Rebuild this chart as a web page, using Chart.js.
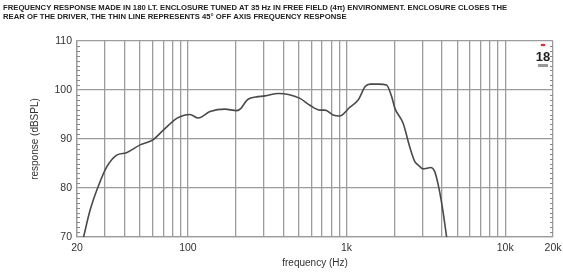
<!DOCTYPE html>
<html>
<head>
<meta charset="utf-8">
<script src="https://cdn.jsdelivr.net/npm/chart.js@4.4.0/dist/chart.umd.min.js"></script>
<style>
  body { margin: 0; background: #fff; }
  #chart { display: block; }
</style>
</head>
<body>
<canvas id="chart" width="563" height="272"></canvas>
<script>
// Frequency response (Hz / dB SPL)
const freqs = [22, 24.2, 27.2, 30.8, 35.6, 41, 50, 60, 70, 85, 96, 103, 116, 138, 171, 203, 215, 235, 252, 270, 306, 372, 430, 508, 588, 680, 732, 822, 904, 1050, 1186, 1310, 1406, 1600, 1786, 1926, 2014, 2272, 2500, 2692, 2828, 3036, 3190, 3382, 3600, 3840, 4070, 4272];
const spl = [70.0, 75.5, 80.3, 84.3, 86.7, 87.2, 88.8, 89.8, 91.8, 94.2, 94.9, 95.0, 94.3, 95.6, 96.1, 95.8, 96.2, 97.9, 98.4, 98.6, 98.8, 99.3, 99.1, 98.3, 96.9, 95.9, 95.9, 94.9, 94.7, 96.5, 98.0, 100.7, 101.2, 101.2, 101.0, 98.6, 96.3, 93.2, 88.4, 85.4, 84.7, 83.9, 84.0, 84.2, 83.3, 79.6, 74.8, 70.0];

// Grid frequencies and the ones that get a label
const gridFreqs = [20, 30, 40, 50, 60, 70, 80, 90, 100, 200, 300, 400, 500, 600, 700, 800, 900, 1000, 2000, 3000, 4000, 5000, 6000, 7000, 8000, 9000, 10000, 20000];
const freqLabels = { 20: "20", 100: "100", 1000: "1k", 10000: "10k", 20000: "20k" };

const titleLines = [
  "FREQUENCY RESPONSE MADE IN 180 LT. ENCLOSURE TUNED AT 35 Hz IN FREE FIELD (4\u03c0) ENVIRONMENT. ENCLOSURE CLOSES THE",
  "REAR OF THE DRIVER, THE THIN LINE REPRESENTS 45\u00b0 OFF AXIS FREQUENCY RESPONSE",
];

const gridColor = "#9c9c9c";
const textColor = "#333";

// small 1 dB ticks inside the left and right frame
const minorTicks = {
  id: "minorTicks",
  afterDraw(chart) {
    const ctx = chart.ctx;
    const y = chart.scales.y;
    const area = chart.chartArea;
    ctx.save();
    ctx.strokeStyle = "#888";
    ctx.lineWidth = 1;
    for (let v = 70; v <= 110; v++) {
      if (v % 10 === 0) continue;
      const py = Math.round(y.getPixelForValue(v)) + 0.5;
      ctx.beginPath();
      ctx.moveTo(area.left, py);
      ctx.lineTo(area.left + 3, py);
      ctx.moveTo(area.right, py);
      ctx.lineTo(area.right - 3, py);
      ctx.stroke();
    }
    ctx.restore();
  },
};

// the little "18" maker logo in the top right corner
const logo = {
  id: "logo",
  afterDraw(chart) {
    const ctx = chart.ctx;
    const area = chart.chartArea;
    const cx = area.right - 10;
    ctx.save();
    ctx.fillStyle = "#d33";
    ctx.beginPath();
    ctx.ellipse(cx, area.top + 4, 2.5, 1.2, 0, 0, Math.PI * 2);
    ctx.fill();
    ctx.fillStyle = "#222";
    ctx.font = "bold 13px 'Liberation Sans', Arial, sans-serif";
    ctx.textAlign = "center";
    ctx.textBaseline = "middle";
    ctx.fillText("18", cx, area.top + 16);
    ctx.fillStyle = "#999";
    ctx.fillRect(cx - 5, area.top + 23, 10, 3);
    ctx.restore();
  },
};

const ctx = document.getElementById("chart").getContext("2d");

new Chart(ctx, {
  type: "line",
  data: {
    datasets: [
      {
        data: freqs.map((f, i) => ({ x: f, y: spl[i] })),
        borderColor: "#4a4a4a",
        borderWidth: 1.6,
        pointRadius: 0,
        fill: false,
        cubicInterpolationMode: "monotone",
      },
    ],
  },
  options: {
    responsive: false,
    animation: false,
    devicePixelRatio: 1,
    layout: { padding: { left: 3, right: 10, top: 0, bottom: 0 } },
    plugins: {
      legend: { display: false },
      tooltip: { enabled: false },
      title: {
        display: true,
        text: titleLines,
        align: "start",
        color: "#222",
        font: { family: "'Liberation Sans', Arial, sans-serif", size: 7.7, weight: "bold", lineHeight: 1.17 },
        padding: { top: 3.5, bottom: 19.5 },
      },
    },
    scales: {
      x: {
        type: "logarithmic",
        min: 20,
        max: 20000,
        afterBuildTicks: (scale) => {
          scale.ticks = gridFreqs.map((v) => ({ value: v }));
        },
        afterFit: (scale) => {
          scale.height = 35;
          scale.paddingLeft = 0;
          scale.paddingRight = 0;
        },
        ticks: {
          autoSkip: false,
          maxRotation: 0,
          padding: 5,
          color: textColor,
          font: { family: "'Liberation Sans', Arial, sans-serif", size: 10.5 },
          callback: (value) => freqLabels[value] || "",
        },
        grid: { color: gridColor, lineWidth: 1.3, drawTicks: false },
        border: { color: gridColor, width: 1.3 },
        title: {
          display: true,
          text: "frequency (Hz)",
          color: textColor,
          font: { family: "'Liberation Sans', Arial, sans-serif", size: 10 },
          padding: { top: 0, bottom: 3 },
        },
      },
      y: {
        min: 70,
        max: 110,
        afterFit: (scale) => {
          scale.width = 74;
        },
        ticks: {
          stepSize: 10,
          padding: 5,
          color: textColor,
          font: { family: "'Liberation Sans', Arial, sans-serif", size: 10.5 },
        },
        grid: { color: gridColor, lineWidth: 1.3, drawTicks: false },
        border: { color: gridColor, width: 1.3 },
        title: {
          display: true,
          text: "response (dBSPL)",
          color: textColor,
          font: { family: "'Liberation Sans', Arial, sans-serif", size: 10 },
          padding: { top: 26.5, bottom: 0 },
        },
      },
    },
  },
  plugins: [minorTicks, logo],
});
</script>
</body>
</html>
